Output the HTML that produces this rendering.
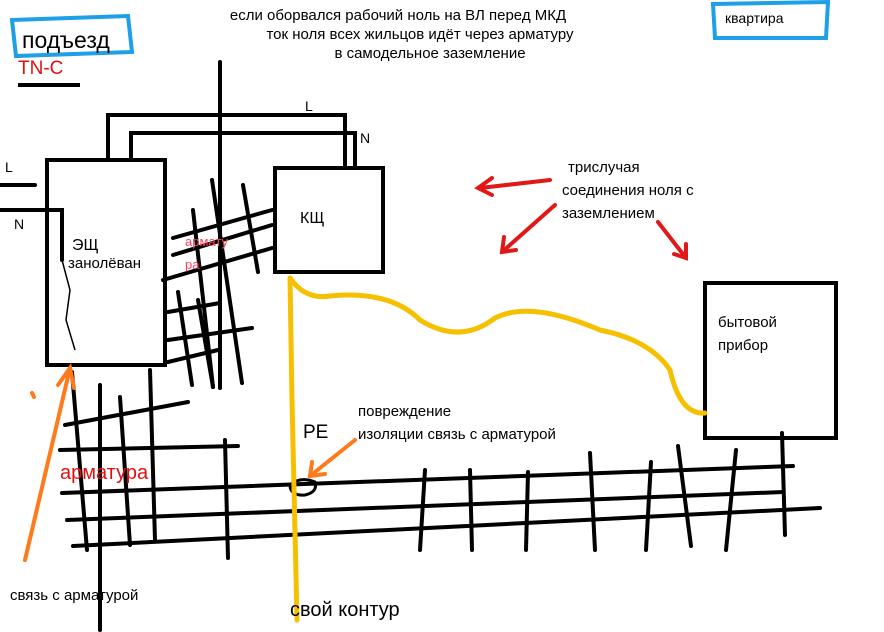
<!DOCTYPE html>
<html><head><meta charset="utf-8"><style>
html,body{margin:0;padding:0;background:#fff;}
svg{display:block;}
text{font-family:"Liberation Sans","DejaVu Sans",sans-serif;}
</style></head><body>
<svg width="884" height="632" viewBox="0 0 884 632" xmlns="http://www.w3.org/2000/svg">
<rect width="884" height="632" fill="#fff"/>
<polygon points="12,20 128,16 132,52 16,56" fill="none" stroke="#1ea0e6" stroke-width="4"/>
<polygon points="713,4 828,2 826,38 715,38" fill="none" stroke="#1ea0e6" stroke-width="4"/>
<text x="22" y="48" font-size="23" fill="#000">подъезд</text>
<text x="18" y="74" font-size="19" fill="#e01010">TN-C</text>
<line x1="18" y1="85" x2="80" y2="85" stroke="#000" stroke-width="4"/>
<text x="725" y="23" font-size="14">квартира</text>
<text x="398" y="20" font-size="15" text-anchor="middle">если оборвался рабочий ноль на ВЛ перед МКД</text>
<text x="420" y="39" font-size="15" text-anchor="middle">ток ноля  всех жильцов идёт через арматуру</text>
<text x="430" y="58" font-size="15" text-anchor="middle">в самодельное заземление</text>

<g stroke="#000" stroke-width="4" fill="none" stroke-linecap="round">
<rect x="47" y="160" width="118" height="205"/>
<rect x="275" y="168" width="108" height="104"/>
<rect x="705" y="283" width="131" height="155"/>
<polyline points="108,160 108,115 345,115 345,168"/>
<polyline points="131,160 131,133 355,133 355,168"/>
<line x1="0" y1="185" x2="35" y2="185"/>
<polyline points="0,210 62,210 62,260"/>
<!-- long verticals -->
<line x1="220" y1="62" x2="220" y2="388"/>
<line x1="212" y1="180" x2="242" y2="383"/>
<line x1="193" y1="210" x2="213" y2="387"/>
<line x1="243" y1="185" x2="258" y2="272"/>
<!-- hatch -->
<line x1="173" y1="238" x2="272" y2="210"/>
<line x1="173" y1="255" x2="272" y2="225"/>
<line x1="163" y1="280" x2="272" y2="248"/>
<line x1="168" y1="312" x2="220" y2="303"/>
<line x1="168" y1="340" x2="252" y2="328"/>
<line x1="168" y1="362" x2="218" y2="350"/>
<line x1="178" y1="292" x2="192" y2="385"/>
<line x1="198" y1="300" x2="213" y2="387"/>
<!-- lower left -->
<line x1="65" y1="425" x2="188" y2="402"/>
<line x1="60" y1="450" x2="238" y2="446"/>
<line x1="72" y1="372" x2="87" y2="550"/>
<line x1="100" y1="385" x2="100" y2="630"/>
<line x1="120" y1="397" x2="130" y2="545"/>
<line x1="150" y1="370" x2="155" y2="540"/>
<line x1="225" y1="440" x2="228" y2="558"/>
<!-- bottom grid -->
<line x1="62" y1="493" x2="793" y2="466"/>
<line x1="67" y1="520" x2="783" y2="492"/>
<line x1="73" y1="546" x2="820" y2="508"/>
<line x1="425" y1="470" x2="420" y2="550"/>
<line x1="470" y1="470" x2="472" y2="550"/>
<line x1="528" y1="472" x2="526" y2="550"/>
<line x1="590" y1="453" x2="595" y2="550"/>
<line x1="651" y1="462" x2="646" y2="550"/>
<line x1="678" y1="446" x2="691" y2="546"/>
<line x1="736" y1="450" x2="726" y2="550"/>
<line x1="782" y1="433" x2="785" y2="535"/>
</g>
<polyline points="62,210 62,260 70,290 66,320 75,350" fill="none" stroke="#000" stroke-width="1.5"/>
<path d="M290,485 Q300,476 315,482 Q318,492 305,495 Q290,496 290,485 Z" fill="none" stroke="#000" stroke-width="3"/>
<g stroke="#f5c000" stroke-width="5" fill="none" stroke-linecap="round">
<polyline points="290,278 292,400 297,620"/>
<path d="M290,278 Q305,300 330,296 Q390,290 420,320 Q460,345 495,318 Q530,300 600,330 Q650,340 670,370 Q680,415 705,413"/>
</g>
<g stroke="#ff7a1a" stroke-width="4" fill="none" stroke-linecap="round">
<line x1="25" y1="560" x2="70" y2="368"/>
<polyline points="58,385 70,368 74,388"/>
<line x1="355" y1="440" x2="310" y2="476"/>
<polyline points="312,462 310,476 325,474"/>
<line x1="32" y1="393" x2="34" y2="397"/>
</g>
<g stroke="#e01818" stroke-width="4" fill="none" stroke-linecap="round">
<line x1="550" y1="180" x2="480" y2="188"/>
<polyline points="492,178 478,188 492,195"/>
<line x1="555" y1="205" x2="502" y2="252"/>
<polyline points="504,237 502,252 516,250"/>
<line x1="658" y1="222" x2="686" y2="258"/>
<polyline points="674,254 686,258 686,244"/>
</g>
<text x="305" y="111" font-size="14">L</text>
<text x="360" y="143" font-size="14">N</text>
<text x="5" y="172" font-size="14">L</text>
<text x="14" y="229" font-size="14">N</text>
<text x="72" y="250" font-size="16">ЭЩ</text>
<text x="68" y="268" font-size="15">занолёван</text>
<text x="300" y="223" font-size="16">КЩ</text>
<text x="185" y="246" font-size="13" fill="#ff4060">армату</text>
<text x="185" y="269" font-size="13" fill="#ff4060">ра</text>
<text x="568" y="172" font-size="15">трислучая</text>
<text x="562" y="195" font-size="15">соединения ноля с</text>
<text x="562" y="218" font-size="15">заземлением</text>
<text x="718" y="327" font-size="15">бытовой</text>
<text x="718" y="350" font-size="15">прибор</text>
<text x="358" y="416" font-size="15">повреждение</text>
<text x="358" y="439" font-size="15">изоляции  связь с арматурой</text>
<text x="303" y="438" font-size="19">PE</text>
<text x="60" y="479" font-size="20" fill="#e01010">арматура</text>
<text x="10" y="600" font-size="15">связь с арматурой</text>
<text x="290" y="616" font-size="20">свой контур</text>
</svg>
</body></html>
